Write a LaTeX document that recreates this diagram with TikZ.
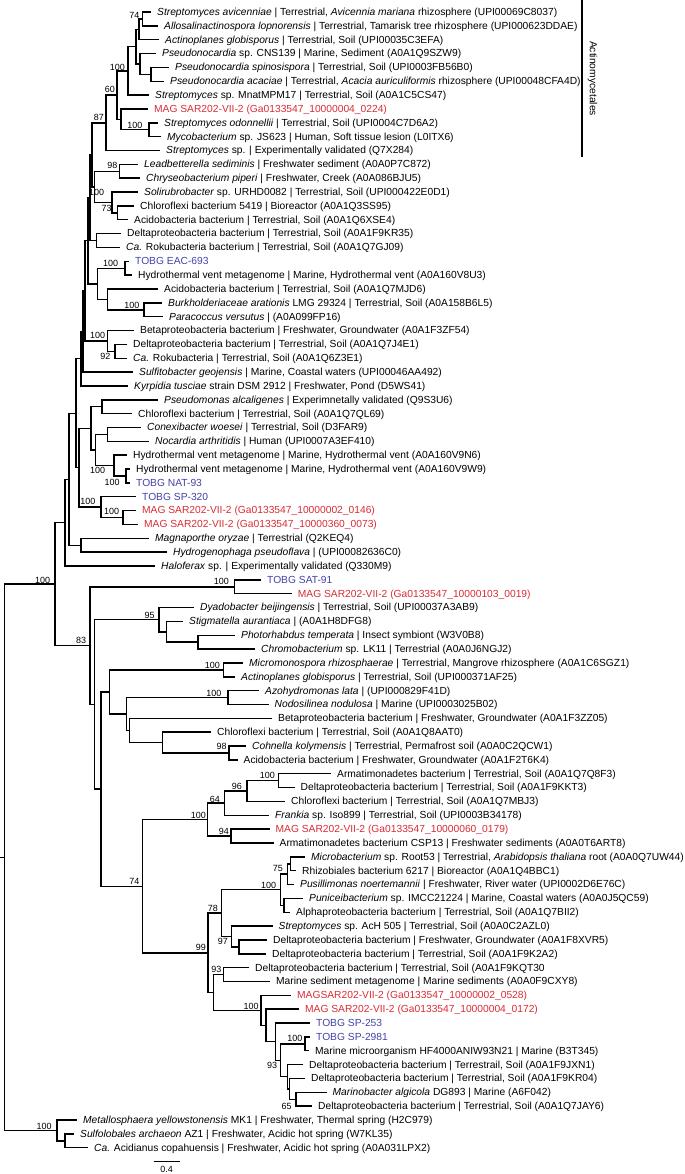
\documentclass[tikz,border=0pt]{standalone}
\usepackage{fontspec}
\setmainfont{Liberation Sans}
\usetikzlibrary{calc}
\definecolor{magred}{RGB}{216,44,52}
\definecolor{tobgblue}{RGB}{66,66,168}
\tikzset{
  br/.style={line width=1.45pt},
  leaflab/.style={anchor=base west,inner sep=0pt,xshift=6pt,yshift=-3.4pt,font=\fontsize{10.3}{12}\selectfont},
  bootlab/.style={anchor=east,inner sep=0pt,font=\fontsize{9}{10}\selectfont},
  magtxt/.style={text=magred},
  tobgtxt/.style={text=tobgblue}
}
\newcommand\leafnode[4]{\coordinate (t#1) at (#2,{12+13.85*(#1-1)}); \node[leaflab,#3] (n#1) at (t#1) {#4};}
\newcommand\treenode[4]{\path let \p1=($(#3)!0.5!(#4)$) in coordinate (#1) at (#2bp,\y1); \draw[br] (#1) |- (#3); \draw[br] (#1) |- (#4);}
\newcommand\bootnode[4]{\node[bootlab] (#1) at (#2,#3) {#4};}
\begin{document}
\begin{tikzpicture}[x=1bp,y=-1bp]
\useasboundingbox (0,0) rectangle (685,1174);
% leaves
\leafnode{1}{151}{}{\textit{Streptomyces avicenniae} | Terrestrial, \textit{Avicennia mariana} rhizosphere (UPI00069C8037)}
\leafnode{2}{158}{}{\textit{Allosalinactinospora lopnorensis} | Terrestrial, Tamarisk tree rhizosphere (UPI000623DDAE)}
\leafnode{3}{159}{}{\textit{Actinoplanes globisporus} | Terrestrial, Soil (UPI00035C3EFA)}
\leafnode{4}{156}{}{\textit{Pseudonocardia} sp. CNS139 | Marine, Sediment (A0A1Q9SZW9)}
\leafnode{5}{169}{}{\textit{Pseudonocardia spinosispora} | Terrestrial, Soil (UPI0003FB56B0)}
\leafnode{6}{164}{}{\textit{Pseudonocardia acaciae} | Terrestrial, \textit{Acacia auriculiformis} rhizosphere (UPI00048CFA4D)}
\leafnode{7}{149}{}{\textit{Streptomyces} sp. MnatMPM17 | Terrestrial, Soil (A0A1C5CS47)}
\leafnode{8}{148}{magtxt}{MAG SAR202-VII-2 (Ga0133547\_10000004\_0224)}
\leafnode{9}{158}{}{\textit{Streptomyces odonnellii} | Terrestrial, Soil (UPI0004C7D6A2)}
\leafnode{10}{161}{}{\textit{Mycobacterium} sp. JS623 | Human, Soft tissue lesion (L0ITX6)}
\leafnode{11}{160}{}{\textit{Streptomyces} sp. | Experimentally validated (Q7X284)}
\leafnode{12}{138}{}{\textit{Leadbetterella sediminis} | Freshwater sediment (A0A0P7C872)}
\leafnode{13}{140}{}{\textit{Chryseobacterium piperi} | Freshwater, Creek (A0A086BJU5)}
\leafnode{14}{138}{}{\textit{Solirubrobacter} sp. URHD0082 | Terrestrial, Soil (UPI000422E0D1)}
\leafnode{15}{134}{}{Chloroflexi bacterium 5419 | Bioreactor (A0A1Q3SS95)}
\leafnode{16}{128}{}{Acidobacteria bacterium | Terrestrial, Soil (A0A1Q6XSE4)}
\leafnode{17}{121}{}{Deltaproteobacteria bacterium | Terrestrial, Soil (A0A1F9KR35)}
\leafnode{18}{120}{}{\textit{Ca.} Rokubacteria bacterium | Terrestrial, Soil (A0A1Q7GJ09)}
\leafnode{19}{129}{tobgtxt}{TOBG EAC-693}
\leafnode{20}{132}{}{Hydrothermal vent metagenome | Marine, Hydrothermal vent (A0A160V8U3)}
\leafnode{21}{158}{}{Acidobacteria bacterium | Terrestrial, Soil (A0A1Q7MJD6)}
\leafnode{22}{162}{}{\textit{Burkholderiaceae arationis} LMG 29324 | Terrestrial, Soil (A0A158B6L5)}
\leafnode{23}{163}{}{\textit{Paracoccus versutus} | (A0A099FP16)}
\leafnode{24}{134}{}{Betaproteobacteria bacterium | Freshwater, Groundwater (A0A1F3ZF54)}
\leafnode{25}{127}{}{Deltaproteobacteria bacterium | Terrestrial, Soil (A0A1Q7J4E1)}
\leafnode{26}{127}{}{\textit{Ca.} Rokubacteria | Terrestrial, Soil (A0A1Q6Z3E1)}
\leafnode{27}{133}{}{\textit{Sulfitobacter geojensis} | Marine, Coastal waters (UPI00046AA492)}
\leafnode{28}{128}{}{\textit{Kyrpidia tusciae} strain DSM 2912 | Freshwater, Pond (D5WS41)}
\leafnode{29}{158}{}{\textit{Pseudomonas alcaligenes} | Experimnetally validated (Q9S3U6)}
\leafnode{30}{132}{}{Chloroflexi bacterium | Terrestrial, Soil (A0A1Q7QL69)}
\leafnode{31}{141}{}{\textit{Conexibacter woesei} | Terrestrial, Soil (D3FAR9)}
\leafnode{32}{149}{}{\textit{Nocardia arthritidis} | Human (UPI0007A3EF410)}
\leafnode{33}{127}{}{Hydrothermal vent metagenome | Marine, Hydrothermal vent (A0A160V9N6)}
\leafnode{34}{130}{}{Hydrothermal vent metagenome | Marine, Hydrothermal vent (A0A160V9W9)}
\leafnode{35}{130}{tobgtxt}{TOBG NAT-93}
\leafnode{36}{136}{tobgtxt}{TOBG SP-320}
\leafnode{37}{136}{magtxt}{MAG SAR202-VII-2 (Ga0133547\_10000002\_0146)}
\leafnode{38}{138}{magtxt}{MAG SAR202-VII-2 (Ga0133547\_10000360\_0073)}
\leafnode{39}{149}{}{\textit{Magnaporthe oryzae} | Terrestrial (Q2KEQ4)}
\leafnode{40}{167}{}{\textit{Hydrogenophaga pseudoflava} | (UPI00082636C0)}
\leafnode{41}{155}{}{\textit{Haloferax} sp. | Experimentally validated (Q330M9)}
\leafnode{42}{261}{tobgtxt}{TOBG SAT-91}
\leafnode{43}{291.7}{magtxt}{MAG SAR202-VII-2 (Ga0133547\_10000103\_0019)}
\leafnode{44}{194}{}{\textit{Dyadobacter beijingensis} | Terrestrial, Soil (UPI00037A3AB9)}
\leafnode{45}{183}{}{\textit{Stigmatella aurantiaca} | (A0A1H8DFG8)}
\leafnode{46}{235}{}{\textit{Photorhabdus temperata} | Insect symbiont (W3V0B8)}
\leafnode{47}{255}{}{\textit{Chromobacterium} sp. LK11 | Terrestrial (A0A0J6NGJ2)}
\leafnode{48}{243}{}{\textit{Micromonospora rhizosphaerae} | Terrestrial, Mangrove rhizosphere (A0A1C6SGZ1)}
\leafnode{49}{235}{}{\textit{Actinoplanes globisporus} | Terrestrial, Soil (UPI000371AF25)}
\leafnode{50}{259}{}{\textit{Azohydromonas lata} | (UPI000829F41D)}
\leafnode{51}{268.5}{}{\textit{Nodosilinea nodulosa} | Marine (UPI0003025B02)}
\leafnode{52}{272}{}{Betaproteobacteria bacterium | Freshwater, Groundwater (A0A1F3ZZ05)}
\leafnode{53}{211}{}{Chloroflexi bacterium | Terrestrial, Soil (A0A1Q8AAT0)}
\leafnode{54}{246}{}{\textit{Cohnella kolymensis} | Terrestrial, Permafrost soil (A0A0C2QCW1)}
\leafnode{55}{237.5}{}{Acidobacteria bacterium | Freshwater, Groundwater (A0A1F2T6K4)}
\leafnode{56}{331}{}{Armatimonadetes bacterium | Terrestrial, Soil (A0A1Q7Q8F3)}
\leafnode{57}{294.5}{}{Deltaproteobacteria bacterium | Terrestrial, Soil (A0A1F9KKT3)}
\leafnode{58}{285}{}{Chloroflexi bacterium | Terrestrial, Soil (A0A1Q7MBJ3)}
\leafnode{59}{269}{}{\textit{Frankia} sp. Iso899 | Terrestrial, Soil (UPI0003B34178)}
\leafnode{60}{269.5}{magtxt}{MAG SAR202-VII-2 (Ga0133547\_10000060\_0179)}
\leafnode{61}{273.5}{}{Armatimonadetes bacterium CSP13 | Freshwater sediments (A0A0T6ART8)}
\leafnode{62}{305}{}{\textit{Microbacterium} sp. Root53 | Terrestrial, \textit{Arabidopsis thaliana} root (A0A0Q7UW44)}
\leafnode{63}{296}{}{Rhizobiales bacterium 6217 | Bioreactor (A0A1Q4BBC1)}
\leafnode{64}{294}{}{\textit{Pusillimonas noertemannii} | Freshwater, River water (UPI0002D6E76C)}
\leafnode{65}{303}{}{\textit{Puniceibacterium} sp. IMCC21224 | Marine, Coastal waters (A0A0J5QC59)}
\leafnode{66}{290}{}{Alphaproteobacteria bacterium | Terrestrial, Soil (A0A1Q7BII2)}
\leafnode{67}{272.5}{}{\textit{Streptomyces} sp. AcH 505 | Terrestrial, Soil (A0A0C2AZL0)}
\leafnode{68}{267}{}{Deltaproteobacteria bacterium | Freshwater, Groundwater (A0A1F8XVR5)}
\leafnode{69}{266}{}{Deltaproteobacteria bacterium | Terrestrial, Soil (A0A1F9K2A2)}
\leafnode{70}{249}{}{Deltaproteobacteria bacterium | Terrestrial, Soil (A0A1F9KQT30}
\leafnode{71}{270}{}{Marine sediment metagenome | Marine sediments (A0A0F9CXY8)}
\leafnode{72}{291}{magtxt}{MAGSAR202-VII-2 (Ga0133547\_10000002\_0528)}
\leafnode{73}{299}{magtxt}{MAG SAR202-VII-2 (Ga0133547\_10000004\_0172)}
\leafnode{74}{310}{tobgtxt}{TOBG SP-253}
\leafnode{75}{310}{tobgtxt}{TOBG SP-2981}
\leafnode{76}{309}{}{Marine microorganism HF4000ANIW93N21 | Marine (B3T345)}
\leafnode{77}{303}{}{Deltaproteobacteria bacterium | Terrestrail, Soil (A0A1F9JXN1)}
\leafnode{78}{305}{}{Deltaproteobacteria bacterium | Terrestrial, Soil (A0A1F9KR04)}
\leafnode{79}{326.5}{}{\textit{Marinobacter algicola} DG893 | Marine (A6F042)}
\leafnode{80}{312}{}{Deltaproteobacteria bacterium | Terrestrial, Soil (A0A1Q7JAY6)}
\leafnode{81}{77}{}{\textit{Metallosphaera yellowstonensis} MK1 | Freshwater, Thermal spring (H2C979)}
\leafnode{82}{74}{}{\textit{Sulfolobales archaeon} AZ1 | Freshwater, Acidic hot spring (W7KL35)}
\leafnode{83}{88}{}{\textit{Ca.} Acidianus copahuensis | Freshwater, Acidic hot spring (A0A031LPX2)}
% internal nodes, upper part
\treenode{A}{142.5}{t1}{t2}
\treenode{B}{139}{A}{t3}
\treenode{C}{151}{t5}{t6}
\treenode{D}{140}{t4}{C}
\treenode{E}{136}{B}{D}
\treenode{F}{128}{E}{t7}
\treenode{H}{149}{t9}{t10}
\treenode{I}{121}{t8}{H}
\treenode{G}{117}{F}{I}
\treenode{Gs}{106}{G}{t11}
\treenode{L}{119.3}{t12}{t13}
\treenode{K}{117.5}{t15}{t16}
\treenode{J}{112}{t14}{K}
\treenode{Pb}{94.3}{L}{J}
\treenode{Pa}{92}{Gs}{Pb}
\treenode{N}{96.5}{t17}{t18}
\treenode{M}{125}{t19}{t20}
\treenode{O}{144}{t22}{t23}
\treenode{P}{107.5}{t21}{O}
\treenode{Q}{97.4}{M}{P}
\treenode{S}{115}{t25}{t26}
\treenode{R}{107.5}{t24}{S}
\treenode{Na}{90}{Pa}{N}
\treenode{Nb}{88}{Na}{Q}
\treenode{Nc}{85}{Nb}{R}
\treenode{Nd}{83}{Nc}{t27}
\treenode{Ne}{81}{Nd}{t28}
\treenode{U}{102}{t29}{t30}
\treenode{V}{107.5}{t31}{t32}
\treenode{X}{126}{t34}{t35}
\treenode{W}{114}{t33}{X}
\treenode{BB}{95.6}{V}{W}
\treenode{AA}{91}{U}{BB}
\treenode{Z}{123}{t37}{t38}
\treenode{Y}{101}{t36}{Z}
\treenode{CC}{79}{AA}{Y}
\treenode{Nf}{76}{Ne}{CC}
\treenode{DD}{81}{t39}{t40}
\treenode{EE}{69}{Nf}{DD}
\treenode{FF}{65}{EE}{t41}
% lower part
\treenode{II}{234.6}{t42}{t43}
\treenode{LL}{198}{t46}{t47}
\treenode{KK}{166.7}{t45}{LL}
\treenode{JJ}{159}{t44}{KK}
\treenode{NN}{223.7}{t48}{t49}
\treenode{PP}{228}{t50}{t51}
\treenode{QQ}{229}{t54}{t55}
\treenode{RR}{162.3}{t53}{QQ}
\treenode{SS}{129.4}{t52}{RR}
\treenode{TT}{126.3}{PP}{SS}
\treenode{UU}{109.6}{NN}{TT}
\treenode{AAA}{278.5}{t56}{t57}
\treenode{BBB}{247}{AAA}{t58}
\treenode{CCC}{224.6}{BBB}{t59}
\treenode{DDD}{231}{t60}{t61}
\treenode{EEE}{207.5}{CCC}{DDD}
\treenode{GGG}{290.4}{t62}{t63}
\treenode{FFF}{287.3}{GGG}{t64}
\treenode{HHH}{284.2}{t65}{t66}
\treenode{III}{280.7}{FFF}{HHH}
\treenode{LLL}{239}{t68}{t69}
\treenode{KKK}{231.6}{t67}{LLL}
\treenode{JJJ}{221.5}{III}{KKK}
\treenode{OOO}{223.7}{t70}{t71}
\treenode{TTT}{304.8}{t75}{t76}
\treenode{VVV}{296}{t79}{t80}
\treenode{WWW}{289.5}{t78}{VVV}
\treenode{UUU}{287.3}{t77}{WWW}
\treenode{SSS}{280.7}{TTT}{UUU}
\treenode{RRR}{275.4}{t74}{SSS}
\treenode{QQQ}{266.2}{t73}{RRR}
\treenode{PPP}{261}{t72}{QQQ}
\treenode{NNN}{213.6}{OOO}{PPP}
\treenode{MMM}{208}{JJJ}{NNN}
\treenode{XX}{142.5}{EEE}{MMM}
\treenode{VV}{100.9}{UU}{XX}
\treenode{MM}{94.3}{JJ}{VV}
\treenode{HH}{90}{II}{MM}
\treenode{GG}{55}{FF}{HH}
\treenode{YYY}{65}{t82}{t83}
\treenode{XXX}{57}{t81}{YYY}
\treenode{root}{4.4}{GG}{XXX}
\path let \p1=(root) in coordinate (rootstub) at (0pt,\y1);
\draw[br] (rootstub) -- (root);
% support values
\bootnode{b1}{139.5}{15}{74}
\bootnode{b2}{125}{67}{100}
\bootnode{b3}{115}{89.3}{60}
\bootnode{b4}{104}{117.7}{87}
\bootnode{b5}{142.5}{125.7}{100}
\bootnode{b6}{117.5}{165}{98}
\bootnode{b7}{104.4}{192.7}{100}
\bootnode{b8}{111.8}{208.3}{73}
\bootnode{b9}{118.4}{263.3}{100}
\bootnode{b10}{139.5}{305}{100}
\bootnode{b11}{105.3}{335}{100}
\bootnode{b12}{110.5}{356.7}{92}
\bootnode{b13}{105.3}{470}{100}
\bootnode{b14}{119.7}{482.3}{100}
\bootnode{b15}{95.6}{501}{100}
\bootnode{b16}{119.3}{511.7}{100}
\bootnode{b17}{50.4}{580}{100}
\bootnode{b18}{229}{581.7}{100}
\bootnode{b19}{154.8}{615}{95}
\bootnode{b20}{86.4}{640}{83}
\bootnode{b21}{220}{665}{100}
\bootnode{b22}{221.5}{693.3}{100}
\bootnode{b23}{226.8}{746.7}{98}
\bootnode{b24}{275}{775}{100}
\bootnode{b25}{242}{786}{96}
\bootnode{b26}{220}{799.3}{64}
\bootnode{b27}{206}{815}{100}
\bootnode{b28}{229}{831}{94}
\bootnode{b29}{283}{868.3}{75}
\bootnode{b30}{139.5}{881.7}{74}
\bootnode{b31}{276.3}{885}{100}
\bootnode{b32}{218}{908.3}{78}
\bootnode{b33}{228}{941.7}{97}
\bootnode{b34}{206}{947.7}{99}
\bootnode{b35}{221.5}{969.3}{93}
\bootnode{b36}{258.8}{1006}{100}
\bootnode{b37}{302.6}{1038.3}{100}
\bootnode{b38}{277.2}{1065}{93}
\bootnode{b39}{291.7}{1106.7}{65}
\bootnode{b40}{51.8}{1126}{100}
% scale bar
\coordinate (sb1) at (153.5,1161.7);
\coordinate (sb2) at (179.8,1161.7);
\draw[br] (sb1) -- (sb2);
\node[inner sep=0pt,font=\fontsize{9}{10}\selectfont] (sblab) at (166.7,1169) {0.4};
% clade bracket
\coordinate (ac1) at (582,0);
\coordinate (ac2) at (582,156.7);
\draw[br] (ac1) -- (ac2);
\node[rotate=-90,inner sep=0pt,font=\fontsize{10.3}{12}\selectfont] (aclab) at (592.5,78.5) {Actinomycetales};
\end{tikzpicture}
\end{document}
